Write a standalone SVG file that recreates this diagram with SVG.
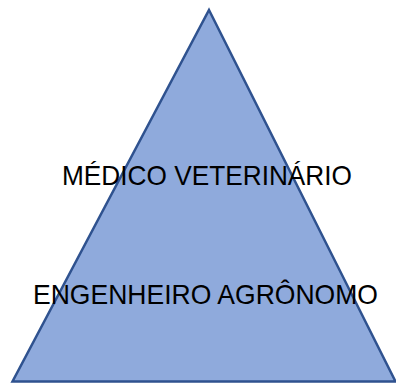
<svg xmlns="http://www.w3.org/2000/svg" width="396" height="383" viewBox="0 0 396 383">
<style>
.tri{fill:#8FAADC;stroke:#2F528F;stroke-width:2.5;stroke-linejoin:miter}
.lbl{font-family:"Liberation Sans",Arial,sans-serif;font-size:28px;fill:#000}
</style>
<rect width="396" height="383" fill="#fff"/>
<g id="pyramid">
<polygon class="tri" points="209,10 395.5,381.5 12.5,381.5"/>
</g>
<g id="label-medico">
<text class="lbl" x="62" y="185" textLength="290" lengthAdjust="spacingAndGlyphs">MÉDICO VETERINÁRIO</text>
</g>
<g id="label-engenheiro">
<text class="lbl" x="33" y="304" textLength="345" lengthAdjust="spacingAndGlyphs">ENGENHEIRO AGRÔNOMO</text>
</g>
</svg>
